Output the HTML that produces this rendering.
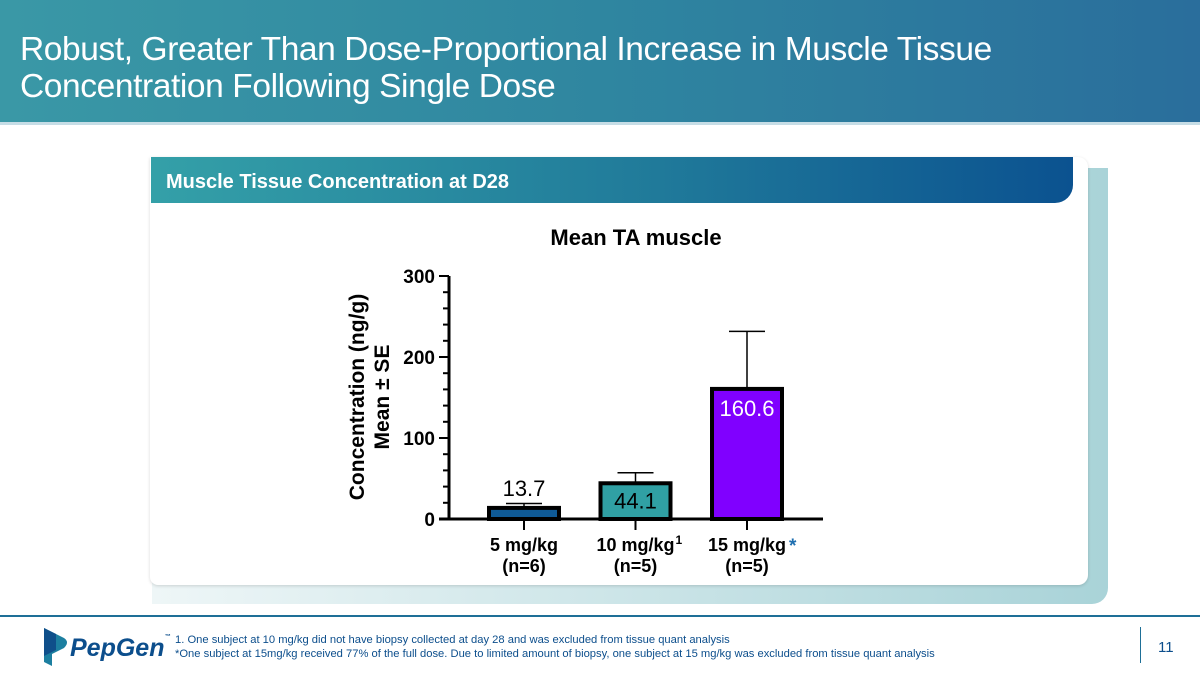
<!DOCTYPE html>
<html><head><meta charset="utf-8"><style>
body{margin:0;width:1200px;height:675px;overflow:hidden;background:#fff;font-family:"Liberation Sans",sans-serif;position:relative}
.abs{position:absolute}
</style></head><body>
<div class="abs" style="left:0;top:0;width:1200px;height:122px;background:linear-gradient(90deg,#3a98a6 0%,#2f86a0 50%,#2a6e9c 100%)"></div>
<div class="abs" style="left:0;top:122px;width:1200px;height:3px;background:#c6dde6"></div>
<div class="abs" style="left:20px;top:31px;color:#fff;font-size:33.5px;line-height:37px;letter-spacing:-0.4px">Robust, Greater Than Dose-Proportional Increase in Muscle Tissue<br>Concentration Following Single Dose</div>

<div class="abs" style="left:152px;top:168px;width:956px;height:436px;background:linear-gradient(90deg,#eef6f7,#a9d3d8);border-radius:0 0 16px 0"></div>
<div class="abs" style="left:150px;top:157px;width:938px;height:428px;background:#fff;border-radius:0 10px 10px 8px;box-shadow:0 1px 3px rgba(0,0,0,0.15)"></div>
<div class="abs" style="left:151px;top:157px;width:922px;height:46px;background:linear-gradient(90deg,#34a0a8,#207a9a 55%,#0b5290);border-radius:0 0 18px 0;color:#fff;font-weight:bold;font-size:20px;line-height:50px;padding-left:15px;box-sizing:border-box">Muscle Tissue Concentration at D28</div>

<svg class="abs" style="left:0;top:0" width="1200" height="675">
<text x="636" y="245" text-anchor="middle" font-size="22" font-weight="bold" fill="#000">Mean TA muscle</text>
<g id="chart"></g>
<text transform="translate(364,397) rotate(-90)" text-anchor="middle" font-size="21" font-weight="bold"><tspan x="0" y="0">Concentration (ng/g)</tspan><tspan x="0" y="25">Mean ± SE</tspan></text>
</svg>

<div class="abs" style="left:0;top:615px;width:1200px;height:2px;background:#1e6f97"></div>
<svg class="abs" style="left:42px;top:628px" width="30" height="40">
<path d="M2 0 L22 10 Q28 14 22 20 L10 26 L10 38 L2 34 Z" fill="#1c7fa0"/><path d="M2 0 L14 6 L14 22 L2 28Z" fill="#0f4f8a"/></svg>
<div class="abs" style="left:70px;top:634px;font-size:25px;font-weight:bold;font-style:italic;color:#0c4e8c">PepGen<span style="font-size:6px;vertical-align:top">™</span></div>
<div class="abs" style="left:175px;top:633px;font-size:11.2px;line-height:14px;color:#0c4e8c">1. One subject at 10 mg/kg did not have biopsy collected at day 28 and was excluded from tissue quant analysis<br>*One subject at 15mg/kg received 77% of the full dose. Due to limited amount of biopsy, one subject at 15 mg/kg was excluded from tissue quant analysis</div>
<div class="abs" style="left:1140px;top:627px;width:1px;height:36px;background:#1e6f97"></div>
<div class="abs" style="left:1158px;top:639px;font-size:15px;color:#0c4e8c">11</div>

<script>
const categories=["5 mg/kg","10 mg/kg","15 mg/kg"];
const nLabels=["(n=6)","(n=5)","(n=5)"];
const means=[13.7,44.1,160.6];
const errs=[5.5,13,71];
const valueLabels=["13.7","44.1","160.6"];
const yTicks=[0,100,200,300];
const colors=["#0f5a96","#30a0a4","#8000ff"];
const NS="http://www.w3.org/2000/svg";
const g=document.getElementById('chart');
const x0=449,y0=519,yTop=276,yMax=300;
const y=v=>y0-(v/yMax)*(y0-yTop);
const xc=i=>524+i*111.5;
function el(t,a){const e=document.createElementNS(NS,t);for(const k in a)e.setAttribute(k,a[k]);g.appendChild(e);return e;}
let ax=el('line',{x1:x0,y1:yTop,x2:x0,y2:y0+1,stroke:'#000','stroke-width':3});


let xa=el('line',{x1:x0-10,y1:y0,x2:823,y2:y0,stroke:'#000','stroke-width':3});


for(let v=0;v<=yMax;v+=20){const major=v%100===0;
 let t=el('line',{x1:major?x0-10:x0-6,y1:y(v),x2:x0,y2:y(v),stroke:'#000','stroke-width':2});
 
 }
yTicks.forEach(v=>{let t=el('text',{x:x0-14,y:y(v)+7,'text-anchor':'end','font-size':19,'font-weight':'bold'});t.textContent=v;
 
 });
categories.forEach((c,i)=>{
 const cx=xc(i),w=70,top=y(means[i]),et=y(means[i]+errs[i]);
 let e=el('line',{x1:cx,y1:top,x2:cx,y2:et,stroke:'#000','stroke-width':1.5});
 
 
 let cap=el('line',{x1:cx-18,y1:et,x2:cx+18,y2:et,stroke:'#000','stroke-width':1.5});
 
 
 let b=el('rect',{x:cx-w/2,y:top,width:w,height:y0-top,fill:colors[i],stroke:'#000','stroke-width':4});
 
 
 let tk=el('line',{x1:cx,y1:y0,x2:cx,y2:y0+11,stroke:'#000','stroke-width':2});
 
 
 let lyy=i===0?top-12:(i===1?top+25:top+27);
 let vl=el('text',{x:cx,y:lyy,'text-anchor':'middle','font-size':22,fill:i===2?'#fff':'#000'});
 vl.textContent=valueLabels[i];
 
 
 let l1=el('text',{x:cx,y:y0+32,'text-anchor':'middle','font-size':18,'font-weight':'bold'});
 l1.textContent=c;
 
 
 if(i===1){let s=el('text',{x:cx+40,y:y0+25,'font-size':12,'font-weight':'bold'});s.textContent='1';
  
  }
 if(i===2){let s=el('text',{x:cx+42,y:y0+33,'font-size':19,'font-weight':'bold',fill:'#1e6fb0'});s.textContent='*';
  
  }
 let l2=el('text',{x:cx,y:y0+53,'text-anchor':'middle','font-size':18,'font-weight':'bold'});
 l2.textContent=nLabels[i];
 
 
});
</script>
</body></html>
